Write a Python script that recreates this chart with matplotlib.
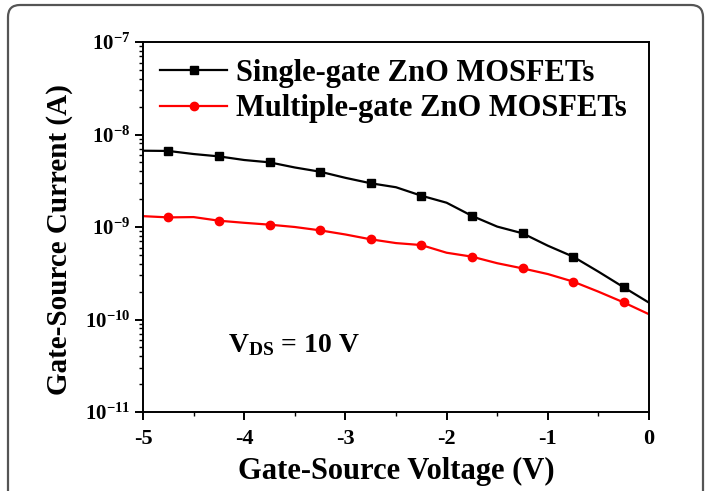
import numpy as np
import matplotlib
matplotlib.use("Agg")
import matplotlib.pyplot as plt
from matplotlib.path import Path
from matplotlib.patches import PathPatch
from matplotlib.ticker import FuncFormatter, LogLocator, MultipleLocator

# gate-source voltage, 0.25 V steps
vgs = [-5.0, -4.75, -4.5, -4.25, -4.0, -3.75, -3.5, -3.25, -3.0, -2.75, -2.5,
       -2.25, -2.0, -1.75, -1.5, -1.25, -1.0, -0.75, -0.5, -0.25, 0.0]

single_gate = [6.68e-9, 6.64e-9, 6.15e-9, 5.8e-9, 5.3e-9, 5.0e-9, 4.4e-9, 3.96e-9,
               3.4e-9, 2.97e-9, 2.69e-9, 2.18e-9, 1.83e-9, 1.32e-9, 1.01e-9,
               8.55e-10, 6.28e-10, 4.78e-10, 3.29e-10, 2.23e-10, 1.52e-10]

multi_gate = [1.31e-9, 1.27e-9, 1.28e-9, 1.17e-9, 1.11e-9, 1.06e-9, 1.0e-9, 9.2e-10,
              8.3e-10, 7.36e-10, 6.7e-10, 6.38e-10, 5.27e-10, 4.78e-10, 4.06e-10,
              3.57e-10, 3.1e-10, 2.57e-10, 2.0e-10, 1.53e-10, 1.14e-10]

labels = ["Single-gate ZnO MOSFETs", "Multiple-gate ZnO MOSFETs"]

plt.rcParams['font.family'] = 'Liberation Serif'
plt.rcParams['font.weight'] = 'bold'
plt.rcParams['mathtext.fontset'] = 'custom'
plt.rcParams['mathtext.rm'] = 'Liberation Serif:bold'
plt.rcParams['mathtext.bf'] = 'Liberation Serif:bold'
plt.rcParams['mathtext.it'] = 'Liberation Serif:bold'
plt.rcParams['axes.unicode_minus'] = False

W, H = 711, 491
fig = plt.figure(figsize=(W / 100, H / 100), dpi=100)

# rounded frame, open at the bottom (pixel coords -> figure fraction)
L, R, T, r = 8, 703, 5, 12
pts = [(L, H), (L, T + r), (L, T), (L + r, T), (R - r, T), (R, T), (R, T + r), (R, H)]
codes = [Path.MOVETO, Path.LINETO, Path.CURVE3, Path.CURVE3, Path.LINETO,
         Path.CURVE3, Path.CURVE3, Path.LINETO]
verts = [(x / W, 1 - y / H) for x, y in pts]
fig.patches.append(PathPatch(Path(verts, codes), transform=fig.transFigure,
                             fill=False, edgecolor='#555555', linewidth=1.6))

ax = fig.add_axes([143 / W, 79 / H, 506 / W, 370 / H])

mk = slice(1, None, 2)
ax.plot(vgs, single_gate, color='black', lw=1.6, marker='s', ms=5.5,
        markevery=mk, label=labels[0])
ax.plot(vgs, multi_gate, color='#ff0000', lw=1.6, marker='o', ms=6,
        markevery=mk, label=labels[1])

ax.set_yscale('log')
ax.set_xlim(-5, 0)
ax.set_ylim(1e-11, 1e-7)

ax.xaxis.set_major_locator(MultipleLocator(1))
ax.xaxis.set_minor_locator(MultipleLocator(0.5))
ax.yaxis.set_major_locator(LogLocator(base=10, numticks=10))
ax.yaxis.set_minor_locator(LogLocator(base=10, subs=np.arange(2, 10), numticks=10))
ax.yaxis.set_major_formatter(FuncFormatter(lambda v, p: r'$\mathbf{10^{%d}}$' % round(np.log10(v))))
ax.xaxis.set_major_formatter(FuncFormatter(lambda v, p: '%d' % round(v)))

ax.tick_params(which='major', direction='out', length=6, width=1.4, labelsize=16)
ax.tick_params(axis='x', pad=6)
ax.tick_params(axis='y', pad=3, labelsize=15)
ax.tick_params(which='minor', direction='out', length=3, width=1.0)
for s in ax.spines.values():
    s.set_linewidth(1.4)

ax.set_xlabel("Gate-Source Voltage (V)", fontsize=22, fontweight='bold', labelpad=6)
ax.set_ylabel("Gate-Source Current (A)", fontsize=21, fontweight='bold')
ax.yaxis.set_label_coords(-0.138, 0.465)

ax.text(-4.16, 5.3e-11, r'$\mathbf{V_{DS}}$ = 10 V', fontsize=20, fontweight='bold',
        va='center', ha='left')

ax.legend(loc='upper left', frameon=False, fontsize=22, handlelength=2.2,
          handletextpad=0.28, labelspacing=0.22, borderaxespad=0, borderpad=0,
          bbox_to_anchor=(0.034, 0.955))

fig.savefig('out.png', dpi=100)
